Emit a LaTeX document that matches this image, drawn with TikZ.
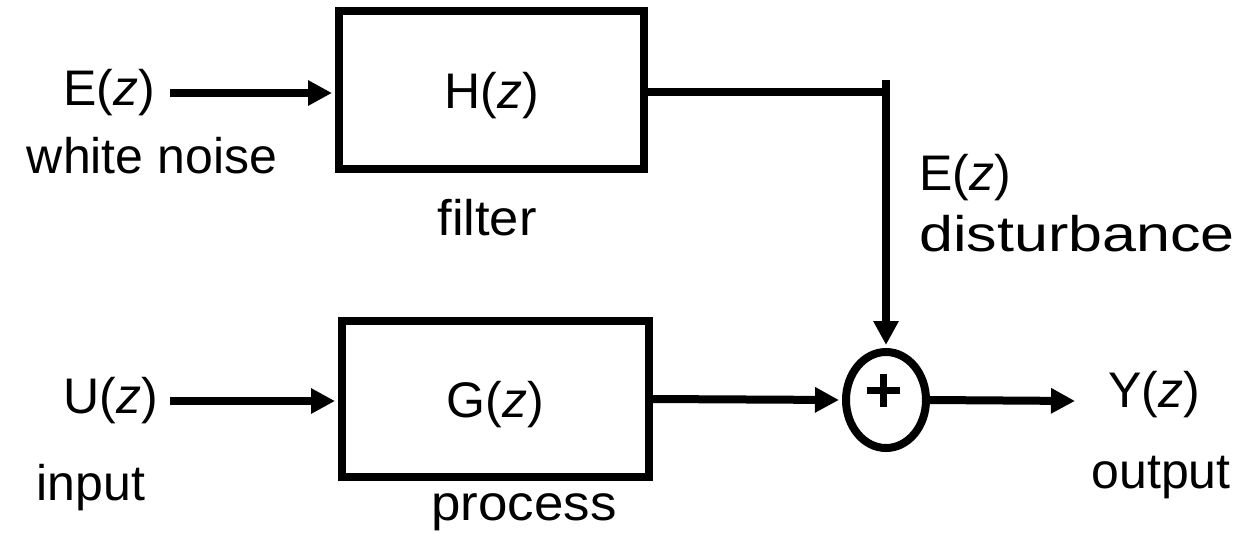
\documentclass[tikz,border=0pt]{standalone}
\usepackage{fontspec}
\setmainfont{Liberation Sans}
\usetikzlibrary{arrows.meta,shapes.geometric}
\tikzset{
  blk/.style={draw, line width=8pt, inner sep=0pt, text height=37pt, text depth=0pt},
  lbl/.style={anchor=base, inner sep=0pt},
  wire/.style={line width=8pt},
  arr/.style={line width=8pt, -{Triangle[length=24pt,width=24pt]}, shorten >=3pt},
}
\begin{document}
\begin{tikzpicture}[x=1pt,y=-1pt,font=\fontsize{50}{60}\selectfont]
\useasboundingbox (0,0) rectangle (1241,533);
% blocks
\node[blk, minimum width=305pt, minimum height=158pt] (H) at (491.5,90) {H(\textit{z})};
\node[blk, minimum width=307pt, minimum height=156pt] (G) at (495.5,399) {G(\textit{z})};
\node[draw, line width=8pt, ellipse, minimum width=80pt, minimum height=96pt, inner sep=0pt] (S) at (886,400) {};
\coordinate (plus) at (883,390);
\draw[line width=7pt] ([xshift=-16.5pt]plus) -- ([xshift=16.5pt]plus)
                      ([yshift=-16.5pt]plus) -- ([yshift=16.5pt]plus);
% labels
\node[lbl] (Ein) at (109,105) {E(\textit{z})};
\node[lbl] (wn) at (152,173) {white noise};
\node[lbl] (filt) at (487,235) {\scalebox{1.05}[1]{filter}};
\node[lbl] (Edist) at (965,190) {E(\textit{z})};
\node[lbl] (dist) at (1077,251) {\scalebox{1.22}[1]{disturbance}};
\node[lbl] (Uin) at (111,413) {U(\textit{z})};
\node[lbl] (inp) at (91,500) {input};
\node[lbl] (proc) at (524,520) {\scalebox{1.057}[1]{process}};
\node[lbl] (Yout) at (1154,407) {Y(\textit{z})};
\node[lbl] (outp) at (1161,488) {output};
% connectors
\coordinate (e0) at (170,93);
\coordinate (u0) at (170,401);
\coordinate (j) at (886,80);
\coordinate (o1) at (1078,401);
\draw[arr] (e0) -- (e0 -| H.west);
\draw[arr] (u0) -- (u0 -| G.west);
\draw[wire] (H.east |- 0,92) -- (j |- 0,92);
\draw[arr] (j) -- (S.north);
\draw[arr] (G.east) -- (S.west);
\draw[arr] (S.east) -- (o1);
\end{tikzpicture}
\end{document}
